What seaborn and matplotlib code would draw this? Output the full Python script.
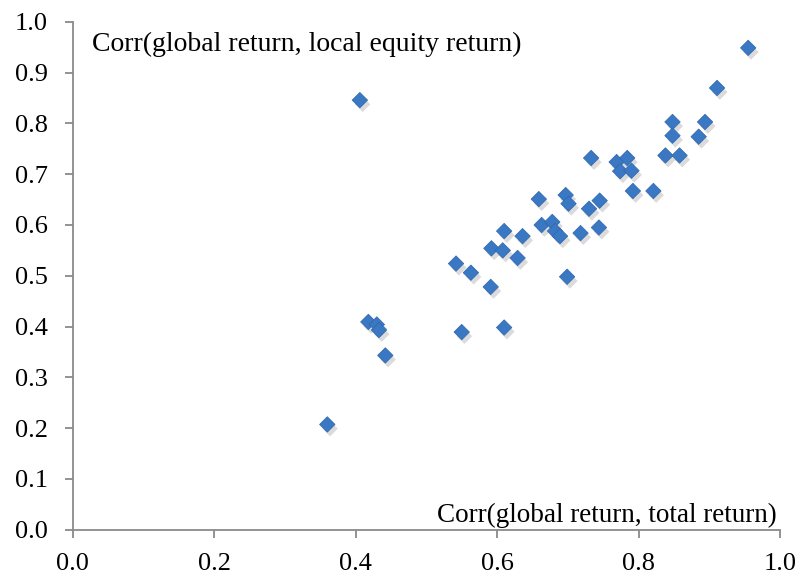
import matplotlib
matplotlib.use("Agg")
import matplotlib.pyplot as plt
import matplotlib.patheffects as pe
import seaborn as sns
import pandas as pd

corr_total = [0.955, 0.911, 0.894, 0.848, 0.848, 0.885, 0.838, 0.858, 0.733, 0.769,
              0.784, 0.774, 0.790, 0.792, 0.821, 0.659, 0.697, 0.701, 0.745, 0.730,
              0.663, 0.678, 0.682, 0.689, 0.718, 0.744, 0.610, 0.636, 0.592, 0.608,
              0.629, 0.542, 0.563, 0.591, 0.699, 0.550, 0.610, 0.406, 0.418, 0.430,
              0.433, 0.442, 0.360]
corr_equity = [0.949, 0.870, 0.803, 0.803, 0.776, 0.774, 0.737, 0.737, 0.732, 0.724,
               0.732, 0.706, 0.707, 0.667, 0.667, 0.651, 0.659, 0.642, 0.648, 0.632,
               0.600, 0.606, 0.588, 0.578, 0.584, 0.595, 0.588, 0.578, 0.554, 0.550,
               0.535, 0.524, 0.506, 0.478, 0.498, 0.389, 0.398, 0.846, 0.409, 0.404,
               0.393, 0.343, 0.207]
x_ticks = [0.0, 0.2, 0.4, 0.6, 0.8, 1.0]
y_ticks = [0.0, 0.1, 0.2, 0.3, 0.4, 0.5, 0.6, 0.7, 0.8, 0.9, 1.0]
x_label = "Corr(global return, total return)"
y_label = "Corr(global return, local equity return)"

df = pd.DataFrame({"total": corr_total, "equity": corr_equity})

sns.set_theme(style="white")
plt.rcParams["font.family"] = ["Liberation Serif", "DejaVu Serif"]

fig = plt.figure(figsize=(8.02, 5.77), dpi=100)
ax = fig.add_axes([0.0906, 0.0823, 0.8820, 0.8796])

shadow = [pe.SimplePatchShadow(offset=(2, -3), shadow_rgbFace="#888888", alpha=0.3),
          pe.Normal()]
sns.scatterplot(data=df, x="total", y="equity", marker="D", s=62,
                color="#3A78C4", edgecolor="#2E66AC", linewidth=0.5, ax=ax,
                legend=False)
for coll in ax.collections:
    coll.set_path_effects(shadow)

ax.set_xlim(0, 1.0)
ax.set_ylim(0, 1.0)
ax.set_xticks(x_ticks)
ax.set_yticks(y_ticks)
ax.set_xticklabels([f"{v:.1f}" for v in x_ticks])
ax.set_yticklabels([f"{v:.1f}" for v in y_ticks])
ax.set_xlabel("")
ax.set_ylabel("")

for side in ["top", "right"]:
    ax.spines[side].set_visible(False)
for side in ["left", "bottom"]:
    ax.spines[side].set_color("#8A8A8A")
    ax.spines[side].set_linewidth(1.3)

ax.tick_params(axis="both", which="both", direction="out", length=6, width=1.3,
               color="#8A8A8A", labelsize=19, labelcolor="black",
               left=True, bottom=True)
ax.tick_params(axis="y", pad=12)
ax.tick_params(axis="x", pad=11)

ax.text(0.027, 0.955, y_label, transform=ax.transAxes, ha="left", va="center",
        fontsize=20, color="black")
ax.text(0.9955, 0.028, x_label, transform=ax.transAxes, ha="right", va="center",
        fontsize=19.5, color="black")

fig.savefig("out.png", dpi=100)
